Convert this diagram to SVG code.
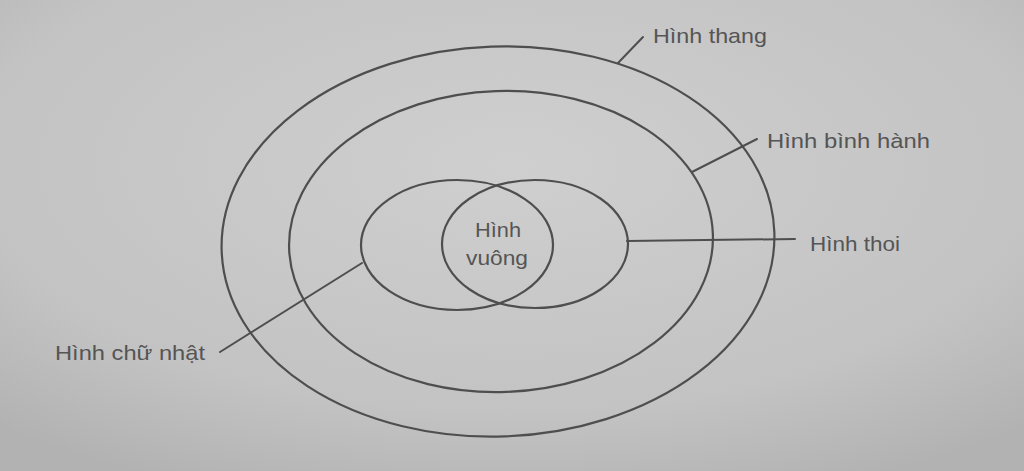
<svg xmlns="http://www.w3.org/2000/svg" width="1024" height="471" viewBox="0 0 1024 471">
  <defs>
    <radialGradient id="bg" cx="0.5" cy="0.35" r="0.75">
      <stop offset="0" stop-color="#cfcfcf"/>
      <stop offset="0.7" stop-color="#c3c3c3"/>
      <stop offset="1" stop-color="#b2b2b2"/>
    </radialGradient>
    <style>
      .set { fill: none; stroke: #4e4e4e; stroke-width: 2.2; }
      .lead { fill: none; stroke: #4e4e4e; stroke-width: 2; stroke-linecap: round; }
      .lbl { font-family: "Liberation Sans", Arial, "DejaVu Sans", sans-serif; font-size: 21px; fill: #555555; }
      .mid { text-anchor: middle; font-size: 20px; }
    </style>
  </defs>
  <rect x="0" y="0" width="1024" height="471" fill="url(#bg)"/>

  <g id="hinh-thang">
    <ellipse class="set" cx="498" cy="241.5" rx="276.5" ry="195" transform="rotate(-2 498 241.5)"/>
    <text class="lbl" x="653" y="43" textLength="114" lengthAdjust="spacingAndGlyphs">Hình thang</text>
  </g>

  <g id="hinh-binh-hanh">
    <ellipse class="set" cx="501" cy="241.5" rx="212" ry="150.5" transform="rotate(-2 501 241.5)"/>
    <text class="lbl" x="767" y="148" textLength="163" lengthAdjust="spacingAndGlyphs">Hình bình hành</text>
  </g>

  <g id="hinh-chu-nhat">
    <ellipse class="set" cx="457" cy="245" rx="96" ry="65"/>
    <text class="lbl" x="55" y="360" textLength="150" lengthAdjust="spacingAndGlyphs">Hình chữ nhật</text>
  </g>

  <g id="hinh-thoi">
    <ellipse class="set" cx="535" cy="244" rx="93" ry="64"/>
    <text class="lbl" x="810" y="251" textLength="90" lengthAdjust="spacingAndGlyphs">Hình thoi</text>
  </g>

  <g id="hinh-vuong">
    <text class="lbl mid" x="498" y="237" textLength="46" lengthAdjust="spacingAndGlyphs">Hình</text>
    <text class="lbl mid" x="497" y="265" textLength="62" lengthAdjust="spacingAndGlyphs">vuông</text>
  </g>

  <g id="connectors">
    <line class="lead" x1="618" y1="63" x2="643" y2="37"/>
    <line class="lead" x1="692" y1="172" x2="757" y2="139"/>
    <line class="lead" x1="627" y1="241" x2="795" y2="239"/>
    <line class="lead" x1="362" y1="263" x2="220" y2="352"/>
  </g>
</svg>
